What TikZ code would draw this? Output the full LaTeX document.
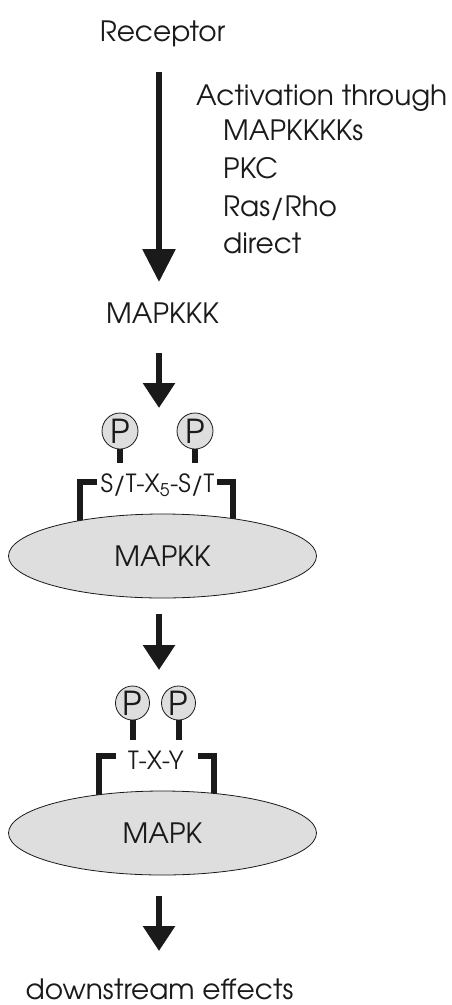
\documentclass[tikz,border=0pt]{standalone}
\usepackage{fontspec}
\setmainfont{TeX Gyre Adventor}
\usetikzlibrary{arrows.meta,shapes.geometric}
\definecolor{ink}{HTML}{1A1A1A}
\definecolor{protein}{HTML}{DEDEDE}
\newcommand\labelfont{\fontsize{28}{32}\selectfont}
\newcommand\motiffont{\fontsize{25}{30}\selectfont}
\begin{document}
\begin{tikzpicture}[x=1pt,y=-1pt,
  lbl/.style={inner sep=0pt, anchor=base, text=ink, font=\labelfont},
  motif/.style={lbl, font=\motiffont},
  flow/.style={draw=ink, line width=6pt,
    -{Triangle[width=31pt,length=25pt]}},
  bigflow/.style={flow, -{Triangle[width=32pt,length=33pt]}},
  kinase/.style={ellipse, draw=ink, line width=0.8pt, fill=protein,
    minimum width=308pt, minimum height=84pt, inner sep=0pt, text=ink,
    font=\labelfont},
  phos/.style={circle, draw=ink, line width=0.8pt, fill=protein,
    minimum size=36pt, inner sep=0pt, text=ink,
    font=\fontsize{33}{34}\selectfont},
  stem/.style={draw=ink, line width=6pt},
  clamp/.style={draw=ink, line width=6pt, line join=miter}]
\useasboundingbox (0,0) rectangle (451,1005);

% labels of the cascade
\node[lbl] (rec) at (162.5,41) {Receptor};
\node[lbl, anchor=base west] (act) at (196,105) {Activation through};
\node[lbl, anchor=base west] (via1) at (223,140) {MAPKKKKs};
\node[lbl, anchor=base west] (via2) at (223,178) {PKC};
\node[lbl, anchor=base west] (via3) at (223,216) {Ras/Rho};
\node[lbl, anchor=base west] (via4) at (223,253) {direct};
\node[lbl] (mkkk) at (162.5,323) {MAPKKK};
\node[lbl] (down) at (159.5,999) {downstream effects};

% arrow end points on the common axis
\coordinate (a1s) at (159,72);   \coordinate (a1e) at (159,282);
\coordinate (a2s) at (159,353);  \coordinate (a2e) at (159,408);
\coordinate (a3s) at (159,614);  \coordinate (a3e) at (159,670);
\coordinate (a4s) at (159,896);  \coordinate (a4e) at (159,951);

\draw[bigflow] (a1s) -- (a1e);
\draw[flow] (a2s) -- (a2e);
\draw[flow] (a3s) -- (a3e);
\draw[flow] (a4s) -- (a4e);

% MAPKK with its dual phosphorylation motif
\draw[clamp] (97,482) -- (79.5,482) -- (79.5,535);
\draw[clamp] (217,482) -- (232.5,482) -- (232.5,535);
\node[kinase] (mkk) at (162.5,556) {MAPKK};
\node[motif] (motif1) at (157.5,492) {S/T-X\textsubscript{5}-S/T};
\node[phos] (p1) at (120,431) {P};
\node[phos] (p2) at (195,431) {P};
\draw[stem] (p1.south) -- (120,463);
\draw[stem] (p2.south) -- (195,463);

% MAPK with its TXY motif
\draw[clamp] (116,756) -- (98.5,756) -- (98.5,810);
\draw[clamp] (198,756) -- (213.5,756) -- (213.5,810);
\node[kinase] (mk) at (162.5,833) {MAPK};
\node[motif] (motif2) at (156,769) {T-X-Y};
\node[phos, minimum size=34pt] (p3) at (132.5,703) {P};
\node[phos, minimum size=34pt] (p4) at (178.5,703) {P};
\draw[stem] (p3.south) -- (132.5,740);
\draw[stem] (p4.south) -- (178.5,740);
\end{tikzpicture}
\end{document}
